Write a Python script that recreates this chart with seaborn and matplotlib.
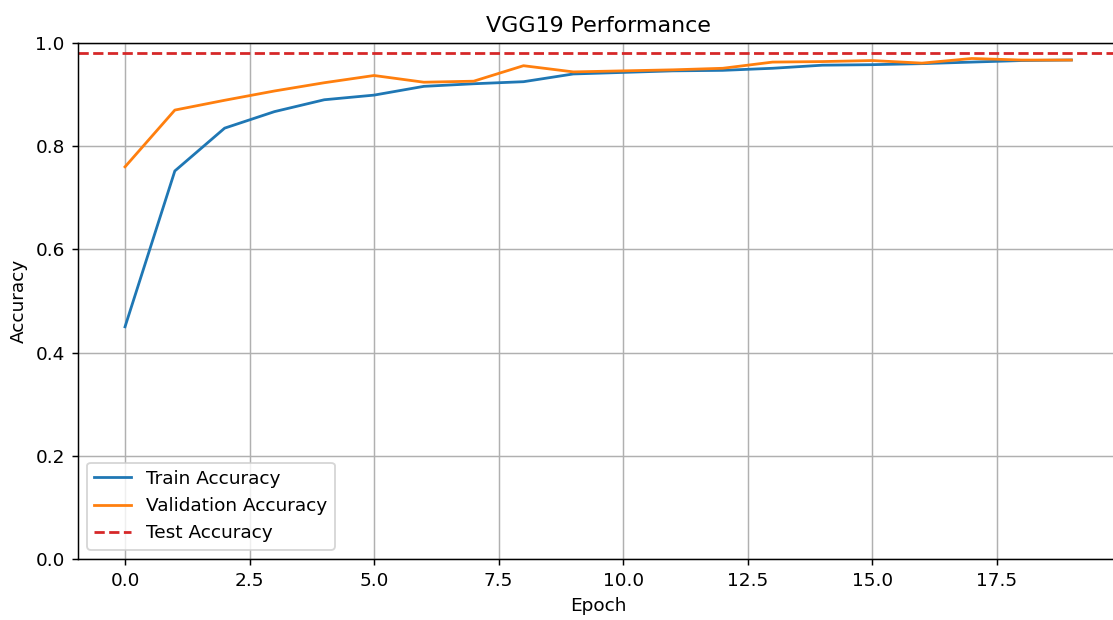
import matplotlib
matplotlib.use("Agg")
import matplotlib.pyplot as plt
import seaborn as sns
import pandas as pd

epochs = list(range(20))
train_acc = [0.450, 0.752, 0.835, 0.867, 0.890, 0.899, 0.916, 0.921, 0.925, 0.940,
             0.943, 0.946, 0.947, 0.951, 0.957, 0.958, 0.960, 0.963, 0.966, 0.967]
val_acc = [0.760, 0.870, 0.889, 0.907, 0.923, 0.937, 0.924, 0.926, 0.956, 0.944,
           0.946, 0.948, 0.951, 0.963, 0.964, 0.966, 0.961, 0.970, 0.967, 0.967]
test_acc = 0.980

df = pd.DataFrame({"Epoch": epochs, "Train Accuracy": train_acc, "Validation Accuracy": val_acc})

dpi = 133
W, H = 1113, 620
fig = plt.figure(figsize=(W / dpi, H / dpi), dpi=dpi)
ax = fig.add_axes([77.7 / W, 61 / H, 1041 / W, 516 / H])

sns.lineplot(data=df, x="Epoch", y="Train Accuracy", ax=ax, color="#1f77b4",
             label="Train Accuracy", linewidth=1.5)
sns.lineplot(data=df, x="Epoch", y="Validation Accuracy", ax=ax, color="#ff7f0e",
             label="Validation Accuracy", linewidth=1.5)
ax.axhline(test_acc, color="#d62728", linestyle="--", linewidth=1.5, label="Test Accuracy")

ax.set_ylim(0, 1.0)
ax.set_title("VGG19 Performance")
ax.set_xlabel("Epoch")
ax.set_ylabel("Accuracy")
ax.grid(True)
ax.legend(loc="lower left")

fig.savefig("out.png", dpi=dpi)
